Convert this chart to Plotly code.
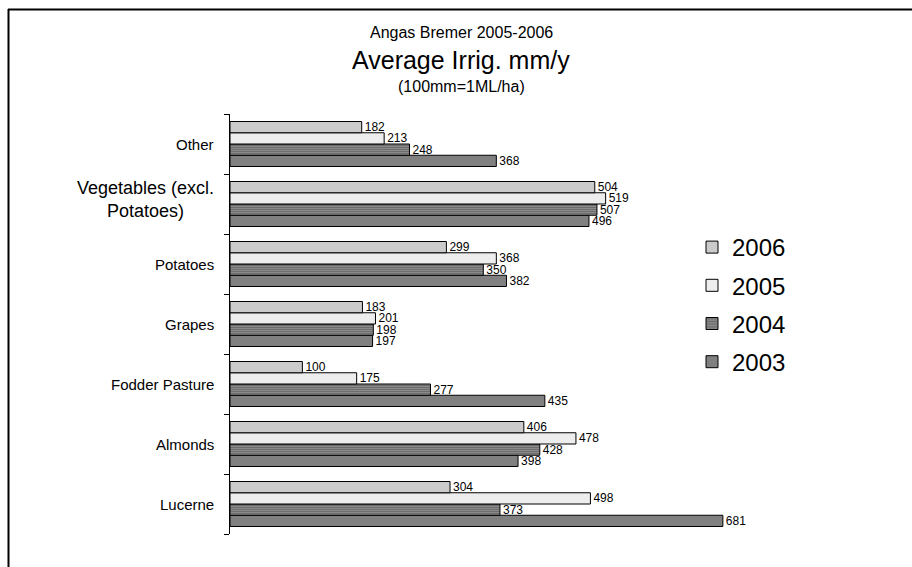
import plotly.graph_objects as go

# Irrigation averages (mm/y) by crop and season
crops = ["Lucerne", "Almonds", "Fodder Pasture", "Grapes", "Potatoes",
         "Vegetables (excl. Potatoes)", "Other"]
crop_labels = ["Lucerne", "Almonds", "Fodder Pasture", "Grapes", "Potatoes",
               "Vegetables (excl.<br>Potatoes)", "Other"]
years = ["2003", "2004", "2005", "2006"]
irrig_2003 = [681, 398, 435, 197, 382, 496, 368]
irrig_2004 = [373, 428, 277, 198, 350, 507, 248]
irrig_2005 = [498, 478, 175, 201, 368, 519, 213]
irrig_2006 = [304, 406, 100, 183, 299, 504, 182]
series = [irrig_2003, irrig_2004, irrig_2005, irrig_2006]

W, H = 912, 567
ML, MR, MT, MB = 230, 103, 114, 33
FONT = "Liberation Sans, Arial, sans-serif"

styles = {
    "2003": dict(color="#808080", pattern=None),
    "2004": dict(color="white", pattern=dict(shape=".", fgcolor="#000000", bgcolor="white",
                                             size=2, solidity=0.6, fillmode="replace")),
    "2005": dict(color="white", pattern=dict(shape=".", fgcolor="#d8d8d8", bgcolor="white",
                                             size=2, solidity=0.5, fillmode="replace")),
    "2006": dict(color="white", pattern=dict(shape=".", fgcolor="#8a8a8a", bgcolor="white",
                                             size=2, solidity=0.5, fillmode="replace")),
}
# legend lists the newest season first
legend_rank = {"2006": 1, "2005": 2, "2004": 3, "2003": 4}

fig = go.Figure()
for yr, vals in zip(years, series):
    st = styles[yr]
    marker = dict(color=st["color"], line=dict(color="black", width=1))
    if st["pattern"]:
        marker["pattern"] = st["pattern"]
    fig.add_trace(go.Bar(
        y=crops, x=vals, name=yr, orientation="h", marker=marker,
        text=[str(v) for v in vals], textposition="outside", constraintext="none",
        textfont=dict(family=FONT, size=12, color="black"),
        cliponaxis=False, legendgroup=yr, legendrank=legend_rank[yr],
    ))

pw = W - ML - MR
ph = H - MT - MB

def px_x(x):
    return (x - ML) / pw

def px_y(y):
    return (H - MB - y) / ph

# Category labels, centered per line
for c, lab in zip(crops, crop_labels):
    multi = "<br>" in lab
    fig.add_annotation(x=px_x(216), xref="paper", y=c, yref="y", text=lab,
                       showarrow=False, xanchor="right", yanchor="middle", align="center",
                       yshift=5 if multi else 0,
                       font=dict(family=FONT, size=18 if multi else 15, color="black"))

# Titles
for txt, ypx, size in [("Angas Bremer 2005-2006", 32, 16),
                       ("Average Irrig. mm/y", 60, 25),
                       ("(100mm=1ML/ha)", 86, 16)]:
    fig.add_annotation(x=px_x(461), xref="paper", y=px_y(ypx), yref="paper",
                       text=txt, showarrow=False, xanchor="center", yanchor="middle",
                       font=dict(family=FONT, size=size, color="black"))

# Outer frame (top and left edges)
fig.add_shape(type="line", xref="paper", yref="paper",
              x0=px_x(8), x1=px_x(W + 5), y0=px_y(9.5), y1=px_y(9.5),
              line=dict(color="black", width=2))
fig.add_shape(type="line", xref="paper", yref="paper",
              x0=px_x(8.5), x1=px_x(8.5), y0=px_y(9), y1=px_y(H + 5),
              line=dict(color="black", width=2))

fig.update_layout(
    width=W, height=H,
    margin=dict(l=ML, r=MR, t=MT, b=MB),
    paper_bgcolor="white", plot_bgcolor="white",
    barmode="group", bargap=0.25, bargroupgap=0,
    font=dict(family=FONT, color="black"),
    xaxis=dict(range=[0, 800], visible=False),
    yaxis=dict(categoryorder="array", categoryarray=crops,
               showline=True, linecolor="black", linewidth=1,
               ticks="outside", ticklen=5, tickcolor="black",
               tickson="boundaries", showticklabels=False,
               showgrid=False, zeroline=False),
    legend=dict(x=px_x(692), y=px_y(225), xanchor="left", yanchor="top",
                traceorder="grouped", tracegroupgap=4,
                font=dict(family=FONT, size=24, color="black"),
                bgcolor="rgba(0,0,0,0)", itemwidth=30),
    showlegend=True,
)

fig.write_html("out.html")
